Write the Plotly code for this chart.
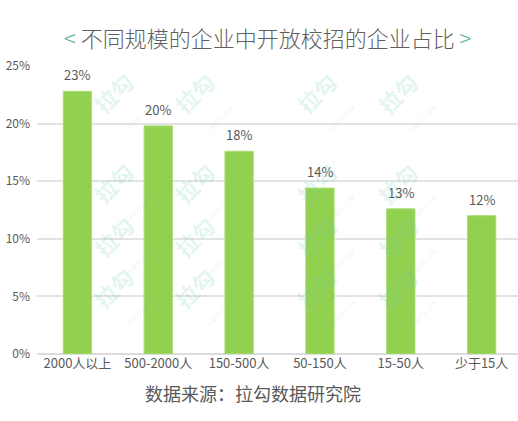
import plotly.graph_objects as go

# Share of companies running campus recruitment, by company size
categories = ["2000人以上", "500-2000人", "150-500人", "50-150人", "15-50人", "少于15人"]
shares = [22.8, 19.8, 17.6, 14.4, 12.6, 12.0]
y_ticks = [0, 5, 10, 15, 20, 25]
y_tick_labels = ["0%", "5%", "10%", "15%", "20%", "25%"]

title_text = "不同规模的企业中开放校招的企业占比"
source_text = "数据来源：拉勾数据研究院"

CJK = "Noto Sans CJK SC"
GRAY = "#595959"
GREEN_BAR = "#92d050"
GREEN_MARK = "#4cb38a"

W, H = 518, 421
ML, MR, MT, MB = 37, 0, 66, 67
PW, PH = W - ML - MR, H - MT - MB


def px_x(px):
    """Figure pixel column -> paper x (plot-area relative)."""
    return (px - ML) / PW


def px_y(py):
    """Figure pixel row -> paper y (plot-area relative)."""
    return (H - MB - py) / PH


fig = go.Figure()
fig.add_trace(go.Bar(
    x=list(range(len(categories))),
    y=shares,
    width=0.35,
    marker=dict(color=GREEN_BAR, line=dict(color="#a9dd74", width=1)),
    hoverinfo="skip",
))

annotations = []

# faint repeated watermark
for wx in [83, 203, 325, 445]:
    for wy in [63, 153, 245, 335]:
        annotations.append(dict(
            x=px_x(wx), y=px_y(wy), xref="paper", yref="paper",
            text="<b>拉勾</b><br><span style='font-size:6px'>LAGOU.COM</span>",
            showarrow=False, textangle=-45,
            font=dict(family=CJK, size=22, color="rgba(110,205,170,0.2)"),
        ))

# value labels above the bars
for i, v in enumerate(shares):
    annotations.append(dict(
        x=i, y=v, xref="x", yref="y", text=f"{v:.0f}%", showarrow=False,
        yanchor="bottom", yshift=5, font=dict(family=CJK, size=13, color=GRAY),
    ))

# title with green angle brackets
annotations.append(dict(
    x=px_x(267), y=px_y(19), xref="paper", yref="paper", showarrow=False,
    text=f"<span style='color:{GREEN_MARK}'>&lt;</span> {title_text} "
         f"<span style='color:{GREEN_MARK}'>&gt;</span>",
    font=dict(family=CJK, size=22, color="#5f5f5f", weight=300),
))
# source note
annotations.append(dict(
    x=px_x(253), y=px_y(408), xref="paper", yref="paper", showarrow=False,
    text=source_text, font=dict(family=CJK, size=18, color=GRAY),
))

fig.update_layout(
    width=W, height=H,
    margin=dict(l=ML, r=MR, t=MT, b=MB),
    paper_bgcolor="white", plot_bgcolor="white",
    showlegend=False,
    xaxis=dict(
        range=[-0.5, 5.45], tickmode="array",
        tickvals=list(range(len(categories))), ticktext=categories,
        showgrid=False, zeroline=False, showline=False, ticks="",
        tickfont=dict(family=CJK, size=13, color=GRAY),
    ),
    yaxis=dict(
        range=[0, 25], tickmode="array", tickvals=y_ticks, ticktext=y_tick_labels,
        showgrid=True, gridcolor="#e3e3e3", gridwidth=1.5,
        zeroline=True, zerolinecolor="#dcdcdc", zerolinewidth=2,
        showline=False, ticks="", ticklabelstandoff=6,
        tickfont=dict(family=CJK, size=12, color=GRAY),
    ),
    annotations=annotations,
)

fig.write_html("out.html")
